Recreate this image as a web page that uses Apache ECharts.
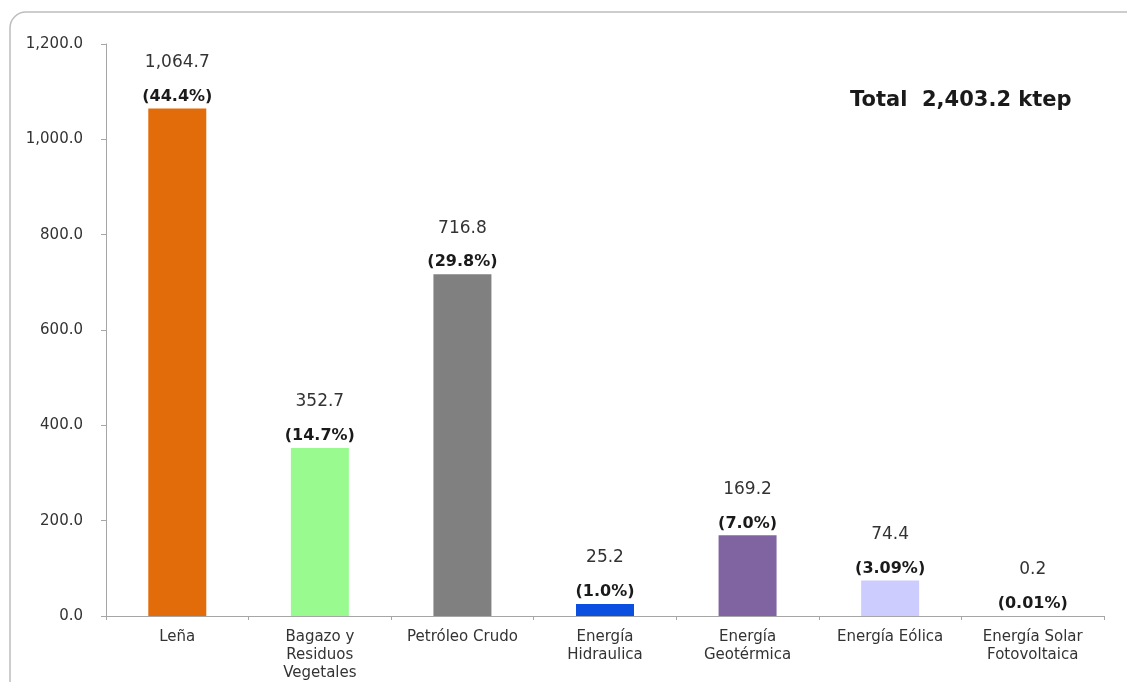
<!DOCTYPE html>
<html>
<head>
<meta charset="utf-8">
<script src="https://cdn.jsdelivr.net/npm/echarts@6/dist/echarts.min.js"></script>
<style>
html,body{margin:0;padding:0;background:#fff;}
#c{width:1127px;height:682px;}
</style>
</head>
<body>
<div id="c"></div>
<script>
var categories = ['Leña', 'Bagazo y\nResiduos\nVegetales', 'Petróleo Crudo', 'Energía\nHidraulica', 'Energía\nGeotérmica', 'Energía Eólica', 'Energía Solar\nFotovoltaica'];
var values = [1064.7, 352.7, 716.8, 25.2, 169.2, 74.4, 0.2];
var percents = ['(44.4%)', '(14.7%)', '(29.8%)', '(1.0%)', '(7.0%)', '(3.09%)', '(0.01%)'];
var colors = ['#E36C0A', '#99FB8F', '#808080', '#0A4FE0', '#8064A2', '#CCCCFF', '#E8E070'];
var totalText = 'Total  2,403.2 ktep';

var FONT = '"DejaVu Sans", Verdana, sans-serif';

function fmt(v) {
  return v.toLocaleString('en-US', {minimumFractionDigits: 1, maximumFractionDigits: 1});
}

var chart = echarts.init(document.getElementById('c'));
chart.setOption({
  backgroundColor: '#fff',
  animation: false,
  grid: {left: 106, right: 23, top: 44, bottom: 63},
  graphic: [
    {type: 'rect', shape: {x: 10, y: 12, width: 1140, height: 700, r: 16},
     style: {fill: 'none', stroke: '#bdbdbd', lineWidth: 1.5}, z: -1},
    {type: 'text', left: 850, top: 90,
     style: {text: totalText, font: 'bold 21px ' + FONT, fill: '#1a1a1a'}}
  ],
  xAxis: {
    type: 'category',
    data: categories,
    axisLine: {lineStyle: {color: '#a6a6a6'}},
    axisTick: {show: true, length: 4, lineStyle: {color: '#a6a6a6'}},
    axisLabel: {color: '#333', fontSize: 15, fontFamily: FONT, lineHeight: 18, margin: 12, interval: 0}
  },
  yAxis: {
    type: 'value',
    min: 0, max: 1200, interval: 200,
    axisLine: {show: true, lineStyle: {color: '#a6a6a6'}},
    axisTick: {show: true, length: 5, lineStyle: {color: '#a6a6a6'}},
    splitLine: {show: false},
    axisLabel: {color: '#333', fontSize: 15, fontFamily: FONT, margin: 23,
      formatter: function (v) { return fmt(v); }}
  },
  series: [{
    type: 'bar',
    barWidth: 58,
    data: values.map(function (v, i) { return {value: v, itemStyle: {color: colors[i]}}; }),
    label: {
      show: true,
      position: 'top',
      distance: 3,
      formatter: function (p) { return '{v|' + fmt(p.value) + '}\n{p|' + percents[p.dataIndex] + '}'; },
      rich: {
        v: {fontSize: 17, color: '#333', fontFamily: FONT, lineHeight: 50},
        p: {fontSize: 16, fontWeight: 'bold', color: '#1a1a1a', fontFamily: FONT, lineHeight: 18}
      }
    }
  }]
});
</script>
</body>
</html>
